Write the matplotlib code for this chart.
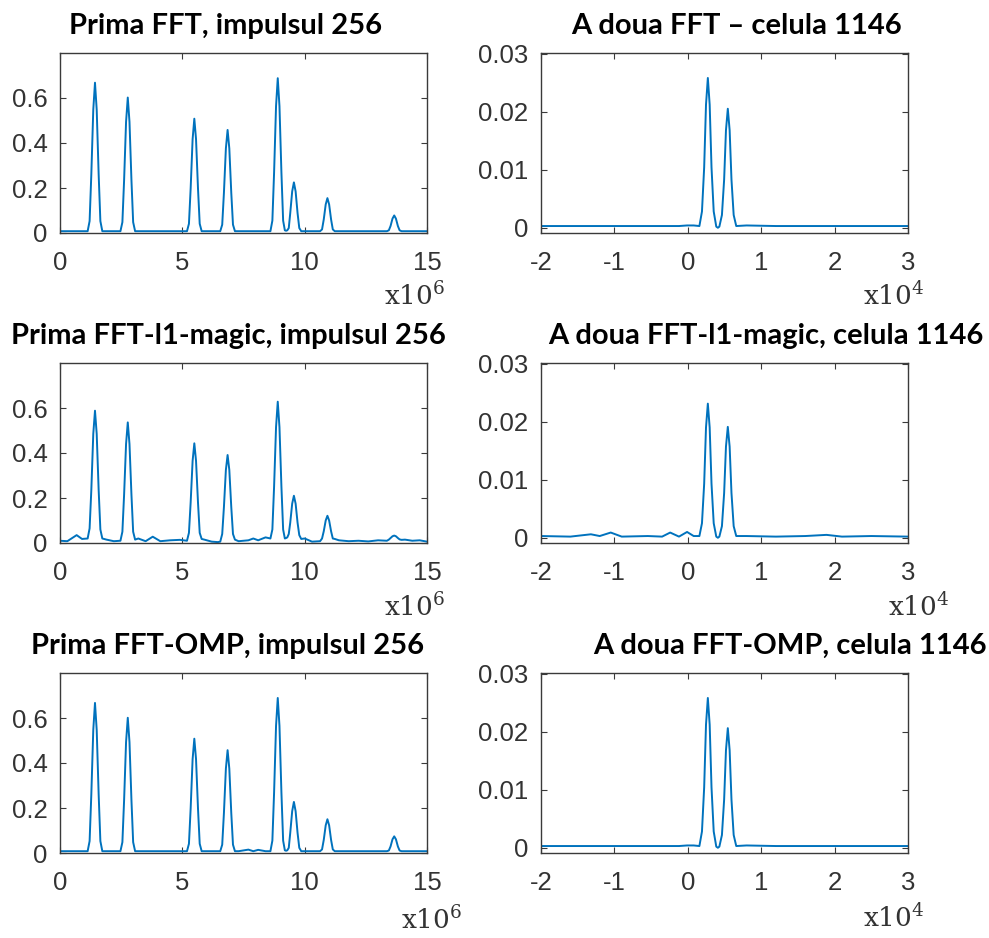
import matplotlib
matplotlib.use("Agg")
import matplotlib.pyplot as plt

# ---- data --------------------------------------------------------------
# first FFT (range), x in units of 1e6
x_first = [0.0, 0.3, 0.68, 0.9,
           1.13, 1.21, 1.28, 1.36, 1.43, 1.50, 1.58, 1.65, 1.73,
           1.9, 2.2,
           2.47, 2.55, 2.62, 2.70, 2.77, 2.84, 2.92, 2.99, 3.07,
           3.2, 3.5, 3.79, 4.1, 4.5, 4.9,
           5.19, 5.27, 5.34, 5.42, 5.49, 5.56, 5.64, 5.71, 5.79,
           5.9, 6.2, 6.45,
           6.55, 6.63, 6.70, 6.78, 6.85, 6.92, 7.00, 7.07, 7.15,
           7.3, 7.7, 7.9, 8.1, 8.4,
           8.60, 8.68, 8.75, 8.83, 8.90, 8.97, 9.05, 9.12, 9.19,
           9.24,
           9.29, 9.35, 9.41, 9.49, 9.56, 9.63, 9.71, 9.78, 9.86,
           10.0, 10.3,
           10.63, 10.71, 10.78, 10.86, 10.93, 11.00, 11.08, 11.15, 11.23,
           11.4, 11.8, 12.2, 12.6, 13.0,
           13.36, 13.44, 13.51, 13.59, 13.66, 13.73, 13.81, 13.88, 13.96,
           14.1, 14.4, 14.7, 15.0]

y_fft = [0.008, 0.008, 0.008, 0.008,
         0.008, 0.053, 0.26, 0.548, 0.668, 0.548, 0.26, 0.053, 0.008,
         0.008, 0.008,
         0.008, 0.048, 0.235, 0.494, 0.602, 0.494, 0.235, 0.048, 0.008,
         0.008, 0.008, 0.008, 0.008, 0.008, 0.008,
         0.008, 0.041, 0.198, 0.417, 0.508, 0.417, 0.198, 0.041, 0.008,
         0.008, 0.008, 0.008,
         0.008, 0.037, 0.179, 0.376, 0.458, 0.376, 0.179, 0.037, 0.008,
         0.008, 0.008, 0.008, 0.008, 0.008,
         0.008, 0.055, 0.268, 0.564, 0.688, 0.564, 0.268, 0.055, 0.012,
         0.010,
         0.012, 0.022, 0.088, 0.185, 0.225, 0.185, 0.088, 0.022, 0.008,
         0.008, 0.008,
         0.008, 0.016, 0.060, 0.127, 0.155, 0.127, 0.060, 0.016, 0.008,
         0.008, 0.008, 0.008, 0.008, 0.008,
         0.008, 0.012, 0.031, 0.064, 0.078, 0.064, 0.031, 0.012, 0.008,
         0.008, 0.008, 0.008, 0.008]

y_l1 = [0.010, 0.008, 0.035, 0.018,
        0.020, 0.065, 0.235, 0.485, 0.588, 0.485, 0.235, 0.060, 0.020,
        0.015, 0.008,
        0.010, 0.050, 0.215, 0.440, 0.536, 0.440, 0.215, 0.050, 0.015,
        0.020, 0.008, 0.028, 0.008, 0.012, 0.014,
        0.010, 0.045, 0.180, 0.365, 0.443, 0.365, 0.180, 0.045, 0.018,
        0.015, 0.006, 0.004,
        0.006, 0.040, 0.160, 0.325, 0.391, 0.325, 0.160, 0.040, 0.015,
        0.008, 0.012, 0.020, 0.012, 0.025,
        0.020, 0.060, 0.250, 0.515, 0.628, 0.515, 0.250, 0.060, 0.020,
        0.022,
        0.025, 0.040, 0.090, 0.175, 0.210, 0.175, 0.090, 0.035, 0.018,
        0.020, 0.006,
        0.008, 0.020, 0.052, 0.100, 0.121, 0.100, 0.052, 0.020, 0.018,
        0.012, 0.008, 0.010, 0.007, 0.012,
        0.010, 0.015, 0.022, 0.030, 0.033, 0.030, 0.022, 0.016, 0.014,
        0.015, 0.010, 0.012, 0.006]

y_omp = [0.008, 0.008, 0.008, 0.008,
         0.008, 0.053, 0.26, 0.547, 0.667, 0.547, 0.26, 0.053, 0.008,
         0.008, 0.008,
         0.008, 0.048, 0.235, 0.493, 0.601, 0.493, 0.235, 0.048, 0.008,
         0.008, 0.008, 0.008, 0.008, 0.008, 0.008,
         0.008, 0.041, 0.198, 0.417, 0.508, 0.417, 0.198, 0.041, 0.008,
         0.008, 0.008, 0.008,
         0.008, 0.037, 0.178, 0.375, 0.457, 0.375, 0.178, 0.037, 0.008,
         0.008, 0.015, 0.008, 0.014, 0.008,
         0.008, 0.055, 0.268, 0.565, 0.689, 0.565, 0.268, 0.055, 0.012,
         0.010,
         0.012, 0.023, 0.089, 0.186, 0.227, 0.186, 0.089, 0.023, 0.008,
         0.008, 0.008,
         0.008, 0.016, 0.058, 0.123, 0.150, 0.123, 0.058, 0.016, 0.008,
         0.008, 0.008, 0.008, 0.008, 0.008,
         0.008, 0.011, 0.029, 0.061, 0.074, 0.061, 0.029, 0.011, 0.008,
         0.008, 0.008, 0.008, 0.008]

# second FFT (Doppler), x in units of 1e4
x_second = [-2.0, -1.6, -1.32, -1.2, -1.05, -0.9, -0.545, -0.35, -0.24,
            -0.12, -0.01, 0.08,
            0.158, 0.193, 0.223, 0.248, 0.273, 0.298, 0.323, 0.353, 0.388,
            0.41,
            0.43, 0.465, 0.495, 0.52, 0.545, 0.57, 0.595, 0.625, 0.66,
            0.8, 1.2, 1.6, 1.89, 2.1, 2.5, 3.0]

y2_fft = [0.0003, 0.0003, 0.0003, 0.0003, 0.0003, 0.0003, 0.0003, 0.0003,
          0.0003, 0.0003, 0.0004, 0.0004,
          0.0003, 0.0028, 0.0104, 0.0212, 0.0258, 0.0212, 0.0104, 0.0028, 0.0002,
          0.0000,
          0.0002, 0.0022, 0.0083, 0.0168, 0.0205, 0.0168, 0.0083, 0.0022, 0.0003,
          0.0004, 0.0003, 0.0003, 0.0003, 0.0003, 0.0003, 0.0003]

y2_l1 = [0.0003, 0.0002, 0.0006, 0.0003, 0.0009, 0.0002, 0.0003, 0.0002,
         0.0009, 0.0002, 0.0010, 0.0003,
         0.0003, 0.0025, 0.0093, 0.0190, 0.0231, 0.0190, 0.0093, 0.0025, 0.0002,
         0.0000,
         0.0002, 0.0020, 0.0077, 0.0157, 0.0191, 0.0157, 0.0077, 0.0020, 0.0003,
         0.0003, 0.0002, 0.0003, 0.0005, 0.0002, 0.0003, 0.0002]

y2_omp = [0.0003, 0.0003, 0.0003, 0.0003, 0.0003, 0.0003, 0.0003, 0.0003,
          0.0003, 0.0003, 0.0004, 0.0004,
          0.0003, 0.0028, 0.0104, 0.0212, 0.0258, 0.0212, 0.0104, 0.0028, 0.0002,
          0.0000,
          0.0002, 0.0022, 0.0083, 0.0168, 0.0206, 0.0168, 0.0083, 0.0022, 0.0003,
          0.0004, 0.0003, 0.0003, 0.0003, 0.0003, 0.0003, 0.0003]

titles_left = ["Prima FFT, impulsul 256",
               "Prima FFT-l1-magic, impulsul 256",
               "Prima FFT-OMP, impulsul 256"]
titles_right = ["A doua FFT \u2013 celula 1146",
                "A doua FFT-l1-magic, celula 1146",
                "A doua FFT-OMP, celula 1146"]

# ---- styling -----------------------------------------------------------
LINE = "#0072BD"
AXC = "#3a3a3a"
plt.rcParams["font.family"] = ["Liberation Sans", "DejaVu Sans"]
plt.rcParams["mathtext.fontset"] = "dejavuserif"

W, H = 989, 938
fig = plt.figure(figsize=(W / 100, H / 100), dpi=100)


def px_axes(left, top, width, height):
    return fig.add_axes([left / W, 1 - (top + height) / H, width / W, height / H])


def style(ax):
    for s in ax.spines.values():
        s.set_color(AXC)
        s.set_linewidth(1.0)
    ax.tick_params(direction="in", length=4, width=0.8, colors=AXC,
                   top=True, right=True, labelsize=18.5, labelcolor="#333333")
    ax.tick_params(axis="x", pad=13)
    ax.tick_params(axis="y", pad=9)


rows_top = [53, 363, 673]
left_series = [y_fft, y_l1, y_omp]
right_series = [y2_fft, y2_l1, y2_omp]

# title centres (px) and x10^n label positions (px) per row
title_y = [26, 336, 646]
title_xl = [226, 228, 228]
title_xr = [737, 766, 790]
mult_l = [(445, 296), (445, 607), (462, 920)]
mult_r = [(925, 296), (950, 607), (925, 918)]

for i in range(3):
    top = rows_top[i]

    ax = px_axes(60, top, 367, 180)
    ax.plot(x_first, left_series[i], color=LINE, lw=1.4)
    ax.set_xlim(0, 15)
    ax.set_ylim(0, 0.8)
    ax.set_xticks([0, 5, 10, 15])
    ax.set_xticklabels(["0", "5", "10", "15"])
    ax.set_yticks([0, 0.2, 0.4, 0.6])
    ax.set_yticklabels(["0", "0.2", "0.4", "0.6"])
    style(ax)

    ax2 = px_axes(541, top, 367, 180)
    ax2.plot(x_second, right_series[i], color=LINE, lw=1.4)
    ax2.set_xlim(-2, 3)
    ax2.set_ylim(-0.0009, 0.0301)
    ax2.set_xticks([-2, -1, 0, 1, 2, 3])
    ax2.set_xticklabels(["-2", "-1", "0", "1", "2", "3"])
    ax2.set_yticks([0, 0.01, 0.02, 0.03])
    ax2.set_yticklabels(["0", "0.01", "0.02", "0.03"])
    style(ax2)

    fig.text(title_xl[i] / W, 1 - title_y[i] / H, titles_left[i],
             ha="center", va="center", fontsize=21, weight="bold",
             family=["Lato", "DejaVu Sans"], color="black")
    fig.text(title_xr[i] / W, 1 - title_y[i] / H, titles_right[i],
             ha="center", va="center", fontsize=21, weight="bold",
             family=["Lato", "DejaVu Sans"], color="black")

    fig.text(mult_l[i][0] / W, 1 - mult_l[i][1] / H, r"x10$^{6}$",
             ha="right", va="center", fontsize=19, family="DejaVu Serif",
             color="#333333")
    fig.text(mult_r[i][0] / W, 1 - mult_r[i][1] / H, r"x10$^{4}$",
             ha="right", va="center", fontsize=19, family="DejaVu Serif",
             color="#333333")

fig.savefig("out.png", dpi=100)
